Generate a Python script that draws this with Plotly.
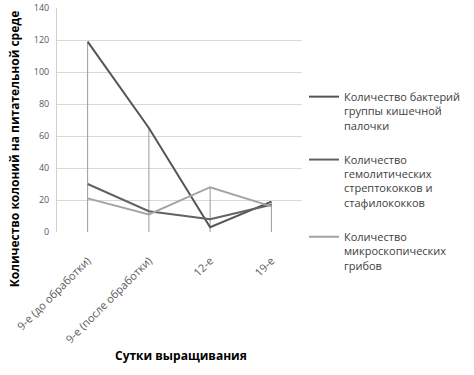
import plotly.graph_objects as go

categories = ["9-е (до обработки)", "9-е (после обработки)", "12-е", "19-е"]
ecoli = [119, 65, 3, 19]
hemolytic = [30, 13, 8, 17]
fungi = [21, 11, 28, 16]

series_names = [
    "Количество бактерий<br>группы кишечной<br>палочки",
    "Количество<br>гемолитических<br>стрептококков и<br>стафилококков",
    "Количество<br>микроскопических<br>грибов",
]
series_values = [ecoli, hemolytic, fungi]
series_colors = ["#555555", "#626262", "#a3a3a3"]

y_ticks = [0, 20, 40, 60, 80, 100, 120, 140]

W, H = 474, 375
L, R, T, B = 57, W - 304, 8, H - 232
PW, PH = W - L - R, H - T - B
font_family = "Open Sans"


def px_x(sx):
    return (sx - L) / PW


def px_y(sy):
    return (232 - sy) / PH


fig = go.Figure()

# drop lines (from highest value down to axis)
dx, dy = [], []
for i, c in enumerate(categories):
    top = max(v[i] for v in series_values)
    dx += [c, c, None]
    dy += [0, top, None]
fig.add_trace(go.Scatter(x=dx, y=dy, mode="lines", line=dict(color="#9a9a9a", width=1),
                         showlegend=False, hoverinfo="skip"))

for i, (name, vals, col) in enumerate(zip(series_names, series_values, series_colors)):
    fig.add_trace(go.Scatter(x=categories, y=vals, mode="lines", name=name,
                             line=dict(color=col, width=2), legendgroup=f"g{i}"))

fig.update_layout(
    width=W, height=H, autosize=False,
    margin=dict(l=L, r=R, t=T, b=B, pad=0),
    paper_bgcolor="white", plot_bgcolor="white",
    font=dict(family=font_family, size=10, color="#404040"),
    xaxis=dict(
        type="category", categoryorder="array", categoryarray=categories,
        range=[-0.5, 3.5], showgrid=False, zeroline=False, tickangle=-45,
        tickfont=dict(size=11, color="#595959"), ticks="outside", ticklen=17,
        tickcolor="rgba(0,0,0,0)",
        showline=False, automargin=False,
    ),
    yaxis=dict(
        range=[0, 140], tickvals=y_ticks, showgrid=True, gridcolor="#d9d9d9", gridwidth=1,
        zeroline=False, tickfont=dict(size=9, color="#595959"), ticks="outside", ticklen=5,
        tickcolor="rgba(0,0,0,0)",
        showline=True, linecolor="#d0d0d0", linewidth=1, automargin=False,
    ),
    legend=dict(
        x=px_x(306), y=px_y(83), xanchor="left", yanchor="top",
        tracegroupgap=17, valign="top", itemwidth=30,
        font=dict(size=11, color="#404040", family=font_family),
        bgcolor="rgba(0,0,0,0)",
    ),
    annotations=[
        dict(text="<b>Количество колоний на питательной среде</b>", textangle=-90,
             xref="paper", yref="paper", x=px_x(14), y=px_y(149),
             showarrow=False, font=dict(size=12, color="#000000", family=font_family),
             xanchor="center", yanchor="middle"),
        dict(text="<b>Сутки выращивания</b>",
             xref="paper", yref="paper", x=px_x(182), y=px_y(355),
             showarrow=False, font=dict(size=12, color="#000000", family=font_family),
             xanchor="center", yanchor="middle"),
    ],
)

fig.write_html("out.html", config={"displayModeBar": False},
               post_script="document.body.style.margin='0';document.body.style.overflow='hidden';")
